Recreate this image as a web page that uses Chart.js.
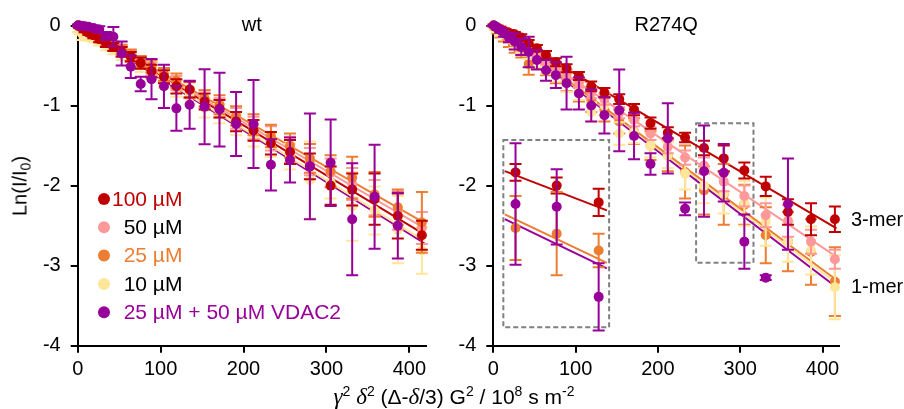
<!DOCTYPE html>
<html lang="en">
<head>
  <meta charset="UTF-8">
  <script src="https://cdn.jsdelivr.net/npm/chart.js"></script>
  <style>
    body, html {
      margin: 0;
      padding: 0;
      background: #fff;
      font-family: 'Liberation Sans', Arial, sans-serif;
    }

    .wrap {
      position: relative;
      width: 904px;
      height: 409px;
      overflow: hidden;
    }

    .wrap canvas {
      position: absolute;
      top: 0;
    }

    .y-title {
      position: absolute;
      left: 20px;
      top: 186px;
      transform: translate(-50%, -50%) rotate(-90deg);
      font-size: 20px;
      white-space: nowrap;
      color: #000;
    }

    .x-title {
      position: absolute;
      left: 454px;
      top: 397px;
      transform: translate(-50%, -50%);
      font-size: 21px;
      white-space: nowrap;
      color: #000;
    }

    .x-title i {
      font-family: 'Liberation Serif', serif;
      font-size: 23px;
    }

    sup { font-size: 14px; vertical-align: 8px; line-height: 0; }
    sub { font-size: 14px; vertical-align: -4px; line-height: 0; }
  </style>
</head>
<body>
  <div class="wrap">
    <canvas id="wt-chart" width="452" height="409" style="left:0"></canvas>
    <canvas id="mut-chart" width="452" height="409" style="left:452px"></canvas>
    <div class="y-title">Ln(I/I<sub>0</sub>)</div>
    <div class="x-title"><i>γ</i><sup>2</sup> <i>δ</i><sup>2</sup> (Δ-<i>δ</i>/3) G<sup>2</sup> / 10<sup>8</sup> s m<sup>-2</sup></div>
  </div>
  <script>
    // gradient steps (same for both panels)
    const xValues = [0.5, 2, 5, 8.5, 13, 19, 26, 34, 43, 53, 64, 76, 89, 104, 119, 135, 153, 171, 191, 212, 233, 256, 280, 305, 331, 358, 386, 415];

    const seriesLabels = ['100 µM', '50 µM', '25 µM', '10 µM', '25 µM + 50 µM VDAC2'];

    // wt panel
    const wtRed = [0, -0.01, -0.02, -0.05, -0.09, -0.12, -0.17, -0.22, -0.27, -0.33, -0.39, -0.47, -0.57, -0.64, -0.76, -0.80, -0.95, -1.04, -1.20, -1.31, -1.47, -1.58, -1.76, -2.00, -2.05, -2.17, -2.38, -2.62];
    const wtRedErr = [0.01, 0.02, 0.02, 0.03, 0.03, 0.04, 0.04, 0.05, 0.05, 0.06, 0.06, 0.07, 0.08, 0.08, 0.09, 0.1, 0.1, 0.11, 0.12, 0.13, 0.14, 0.15, 0.16, 0.24, 0.2, 0.32, 0.28, 0.18];
    const wtPink = [0, -0.01, -0.03, -0.05, -0.08, -0.11, -0.16, -0.21, -0.26, -0.32, -0.38, -0.46, -0.54, -0.62, -0.72, -0.81, -0.92, -1.03, -1.16, -1.28, -1.41, -1.55, -1.70, -1.84, -1.98, -2.15, -2.31, -2.53];
    const wtPinkErr = [0.01, 0.02, 0.02, 0.03, 0.03, 0.04, 0.04, 0.05, 0.05, 0.06, 0.07, 0.07, 0.08, 0.09, 0.09, 0.1, 0.11, 0.12, 0.13, 0.14, 0.15, 0.16, 0.17, 0.18, 0.2, 0.22, 0.24, 0.2];
    const wtOrange = [0, -0.01, -0.03, -0.06, -0.08, -0.12, -0.16, -0.20, -0.26, -0.30, -0.37, -0.45, -0.51, -0.61, -0.69, -0.80, -0.91, -0.99, -1.13, -1.24, -1.38, -1.50, -1.66, -1.82, -1.90, -2.11, -2.27, -2.46];
    const wtOrangeErr = [0.01, 0.02, 0.02, 0.03, 0.03, 0.04, 0.05, 0.05, 0.06, 0.06, 0.07, 0.07, 0.08, 0.08, 0.09, 0.1, 0.1, 0.12, 0.12, 0.13, 0.14, 0.15, 0.18, 0.2, 0.26, 0.28, 0.22, 0.38];
    const wtYellow = [-0.03, -0.05, -0.10, -0.09, -0.12, -0.15, -0.19, -0.24, -0.29, -0.36, -0.42, -0.50, -0.59, -0.68, -0.79, -0.88, -1.03, -1.10, -1.24, -1.37, -1.49, -1.64, -1.93, -1.96, -2.26, -2.31, -2.55, -2.81];
    const wtYellowErr = [0.05, 0.06, 0.08, 0.07, 0.07, 0.06, 0.06, 0.07, 0.07, 0.07, 0.08, 0.08, 0.08, 0.09, 0.1, 0.1, 0.12, 0.12, 0.13, 0.14, 0.15, 0.16, 0.48, 0.2, 0.43, 0.3, 0.42, 0.29];
    const wtPurple = [0, 0, -0.005, -0.01, -0.015, -0.03, -0.05, -0.13, -0.14, -0.35, -0.515, -0.73, -0.67, -0.76, -1.035, -0.99, -1.015, -1.05, -1.23, -1.23, -1.74, -1.68, -1.76, -1.715, -2.42, -2.14, -2.5, null];
    const wtPurpleErr = [0.01, 0.01, 0.01, 0.02, 0.02, 0.03, 0.04, 0.05, 0.12, 0.15, 0.14, 0.09, 0.25, 0.27, 0.28, 0.3, 0.47, 0.46, 0.4, 0.55, 0.32, 0.28, 0.66, 0.54, 0.70, 0.65, 0.41, null];

    // R274Q panel
    const mutRed = [0, -0.01, -0.03, -0.05, -0.07, -0.09, -0.11, -0.15, -0.22, -0.285, -0.37, -0.46, -0.535, -0.63, -0.76, -0.84, -0.92, -1.05, -1.22, -1.34, -1.40, -1.53, -1.66, -1.81, -2.01, -2.33, -2.42, -2.42];
    const mutRedErr = [0.01, 0.01, 0.02, 0.02, 0.03, 0.03, 0.03, 0.04, 0.04, 0.04, 0.05, 0.05, 0.05, 0.05, 0.06, 0.06, 0.06, 0.07, 0.07, 0.07, 0.06, 0.09, 0.16, 0.1, 0.12, 0.16, 0.2, 0.16];
    const mutPink = [0, -0.01, -0.02, -0.04, -0.06, -0.10, -0.15, -0.21, -0.28, -0.36, -0.44, -0.52, -0.61, -0.715, -0.84, -0.92, -1.09, -1.18, -1.35, -1.515, -1.65, -1.75, -1.95, -2.13, -2.37, -2.44, -2.70, -2.92];
    const mutPinkErr = [0.01, 0.01, 0.02, 0.02, 0.03, 0.03, 0.04, 0.04, 0.05, 0.05, 0.05, 0.06, 0.06, 0.06, 0.07, 0.07, 0.07, 0.08, 0.08, 0.08, 0.09, 0.1, 0.12, 0.13, 0.15, 0.2, 0.15, 0.12];
    const mutOrange = [0, -0.02, -0.05, -0.08, -0.12, -0.17, -0.21, -0.3, -0.48, -0.43, -0.52, -0.6, -0.7, -0.82, -0.94, -1.05, -1.2, -1.32, -1.5, -1.62, -1.83, -2.06, -2.11, -2.24, -2.62, -2.7, -2.83, -3.2];
    const mutOrangeErr = [0.02, 0.03, 0.05, 0.07, 0.08, 0.1, 0.13, 0.1, 0.135, 0.1, 0.1, 0.12, 0.12, 0.13, 0.14, 0.15, 0.15, 0.16, 0.18, 0.2, 0.33, 0.3, 0.38, 0.25, 0.35, 0.37, 0.41, 0.43];
    const mutYellow = [-0.01, -0.02, -0.04, -0.07, -0.10, -0.15, -0.2, -0.26, -0.33, -0.42, -0.5, -0.6, -0.72, -0.82, -1.08, -1.0, -1.35, -1.33, -1.5, -1.62, -1.85, -2.0, -2.1, -2.22, -2.45, -2.70, -2.81, -3.27];
    const mutYellowErr = [0.02, 0.03, 0.04, 0.05, 0.06, 0.07, 0.08, 0.08, 0.09, 0.1, 0.1, 0.1, 0.11, 0.11, 0.12, 0.12, 0.14, 0.14, 0.15, 0.16, 0.2, 0.22, 0.25, 0.28, 0.3, 0.25, 0.3, 0.4];
    const mutPurple = [0, -0.01, -0.03, -0.06, -0.1, -0.15, -0.2, -0.27, -0.33, -0.43, -0.56, -0.62, -0.72, -0.85, -1.0, -1.12, -1.06, -1.38, -1.73, -1.41, -2.29, -1.82, -1.84, -2.70, -3.15, -2.23, null, null];
    const mutPurpleErr = [0.01, 0.01, 0.02, 0.03, 0.04, 0.06, 0.1, 0.1, 0.19, 0.12, 0.13, 0.16, 0.33, 0.2, 0.2, 0.23, 0.51, 0.29, 0.135, 0.44, 0.08, 0.57, 0.36, 0.34, 0.03, 0.57, null, null];

    // fitted lines (value at each end of fitX)
    const wtFitX = [2, 418];
    const wtFitRed = [-0.01, -2.61];
    const wtFitPink = [-0.01, -2.53];
    const wtFitOrange = [0, -2.465];
    const wtFitYellow = [-0.02, -2.69];
    const wtFitPurple = [-0.03, -2.72];

    const mutFitX = [2, 417];
    const mutFitRed = [-0.01, -2.535];
    const mutFitPink = [-0.01, -2.89];
    const mutFitOrange = [-0.01, -3.18];
    const mutFitYellow = [-0.01, -3.22];
    const mutFitPurple = [-0.02, -3.27];

    // enlarged inset inside the R274Q panel
    const insetX = [27, 77, 128];
    const insetRed = [-1.835, -2.0, -2.21];
    const insetRedErr = [0.105, 0.1, 0.17];
    const insetOrange = [-2.53, -2.6, -2.81];
    const insetOrangeErr = [0.4, 0.52, 0.21];
    const insetPurple = [-2.23, -2.265, -3.39];
    const insetPurpleErr = [0.76, 0.47, 0.42];
    const insetFitX = [14, 138];
    const insetFitRed = [-1.82, -2.31];
    const insetFitOrange = [-2.36, -2.965];
    const insetFitPurple = [-2.42, -3.035];

    // dashed boxes [x1, x2, y1, y2]
    const insetBox = [12.2, 140.7, -1.43, -3.77];
    const zoomBox = [246.4, 316.1, -1.22, -2.965];

    // side labels of the R274Q panel
    const sideLabels = ['3-mer', '1-mer'];
    const sideLabelY = [-2.44, -3.27];

    const yTicks = [0, -1, -2, -3, -4];
    const xTicks = [0, 100, 200, 300, 400];

    const RED = '#c00000', PINK = '#ff9999', ORANGE = '#ed7d31', YELLOW = '#ffe699', PURPLE = '#990099';
    const FONT = "'Liberation Sans', Arial, sans-serif";
    const FONT_SIZE = 20;
    const legendText = [RED, '#000', ORANGE, '#000', PURPLE];
    const legendDots = [RED, PINK, ORANGE, YELLOW, PURPLE];

    function pts(xs, ys) {
      return xs.map((x, i) => ({ x: x, y: ys[i] }));
    }

    function scatterSet(xs, ys, errs, color, order) {
      return {
        type: 'scatter',
        data: pts(xs, ys),
        errors: errs,
        backgroundColor: color,
        borderColor: color,
        pointRadius: 5,
        pointBorderWidth: 0,
        order: order,
        clip: false
      };
    }

    function fitSet(xs, ys, color) {
      return {
        type: 'line',
        data: pts(xs, ys),
        borderColor: color,
        borderWidth: 2,
        pointRadius: 0,
        fill: false,
        order: 20,
        clip: false
      };
    }

    const errorBars = {
      id: 'errorBars',
      beforeDatasetDraw(chart, args) {
        const ds = chart.data.datasets[args.index];
        if (!ds.errors) return;
        const ctx = chart.ctx, x = chart.scales.x, y = chart.scales.y;
        ctx.save();
        ctx.strokeStyle = ds.backgroundColor;
        ctx.lineWidth = 2;
        ds.data.forEach((p, i) => {
          const e = ds.errors[i];
          if (p.y == null || e == null) return;
          const px = x.getPixelForValue(p.x);
          const top = y.getPixelForValue(p.y + e);
          const bot = y.getPixelForValue(p.y - e);
          ctx.beginPath();
          ctx.moveTo(px, top); ctx.lineTo(px, bot);
          ctx.moveTo(px - 6, top); ctx.lineTo(px + 6, top);
          ctx.moveTo(px - 6, bot); ctx.lineTo(px + 6, bot);
          ctx.stroke();
        });
        ctx.restore();
      }
    };

    const panelTitle = {
      id: 'panelTitle',
      afterDraw(chart, args, opts) {
        const ctx = chart.ctx, a = chart.chartArea;
        ctx.save();
        ctx.font = FONT_SIZE + 'px ' + FONT;
        ctx.fillStyle = '#000';
        ctx.textAlign = 'center';
        ctx.textBaseline = 'middle';
        ctx.fillText(opts.text, (a.left + a.right) / 2, a.top);
        ctx.restore();
      }
    };

    const dashedBoxes = {
      id: 'dashedBoxes',
      beforeDatasetsDraw(chart, args, opts) {
        if (!opts.boxes) return;
        const ctx = chart.ctx, x = chart.scales.x, y = chart.scales.y;
        ctx.save();
        ctx.strokeStyle = '#808080';
        ctx.lineWidth = 2;
        ctx.setLineDash([5, 3]);
        opts.boxes.forEach(b => {
          const x1 = x.getPixelForValue(b[0]), x2 = x.getPixelForValue(b[1]);
          const y1 = y.getPixelForValue(b[2]), y2 = y.getPixelForValue(b[3]);
          ctx.strokeRect(x1, y1, x2 - x1, y2 - y1);
        });
        ctx.restore();
      }
    };

    const dotLegend = {
      id: 'dotLegend',
      afterDraw(chart, args, opts) {
        if (!opts.show) return;
        const ctx = chart.ctx;
        ctx.save();
        ctx.font = '21px ' + FONT;
        ctx.textBaseline = 'middle';
        const indent = ctx.measureText('0').width;
        seriesLabels.forEach((label, i) => {
          const cy = 199 + i * 28.3;
          ctx.fillStyle = legendDots[i];
          ctx.beginPath();
          ctx.arc(104, cy, 6, 0, Math.PI * 2);
          ctx.fill();
          ctx.fillStyle = legendText[i];
          ctx.fillText(label, 112 + (i === 0 ? 0 : indent), cy + 1);
        });
        ctx.restore();
      }
    };

    const sideText = {
      id: 'sideText',
      afterDraw(chart, args, opts) {
        if (!opts.labels) return;
        const ctx = chart.ctx, y = chart.scales.y;
        ctx.save();
        ctx.font = FONT_SIZE + 'px ' + FONT;
        ctx.fillStyle = '#000';
        ctx.textBaseline = 'middle';
        opts.labels.forEach((t, i) => {
          ctx.fillText(t, chart.chartArea.right + 12, y.getPixelForValue(opts.values[i]));
        });
        ctx.restore();
      }
    };

    function makeOptions(title, yWidth, padRight, extra) {
      return {
        responsive: false,
        animation: false,
        events: [],
        layout: { padding: { left: 0, right: padRight, top: 25.5, bottom: 0 } },
        scales: {
          x: {
            type: 'linear',
            min: 0,
            max: 420,
            afterBuildTicks: s => { s.ticks = xTicks.map(v => ({ value: v })); },
            afterFit: s => { s.height = 63.3; },
            border: { display: true, color: '#000', width: 2 },
            grid: { drawOnChartArea: false, drawTicks: true, tickLength: 7, color: '#000', lineWidth: 2 },
            ticks: { color: '#000', font: { family: FONT, size: FONT_SIZE }, padding: 5, maxRotation: 0 }
          },
          y: {
            type: 'linear',
            min: -4,
            max: 0,
            afterBuildTicks: s => { s.ticks = yTicks.map(v => ({ value: v })); },
            afterFit: s => { s.width = yWidth; },
            border: { display: true, color: '#000', width: 2 },
            grid: { drawOnChartArea: false, drawTicks: true, tickLength: 7, color: '#000', lineWidth: 2 },
            ticks: { color: '#000', font: { family: FONT, size: FONT_SIZE }, padding: 10 }
          }
        },
        plugins: Object.assign({
          legend: { display: false },
          tooltip: { enabled: false },
          panelTitle: { text: title }
        }, extra)
      };
    }

    const plugins = [errorBars, panelTitle, dashedBoxes, dotLegend, sideText];

    new Chart(document.getElementById('wt-chart'), {
      type: 'scatter',
      data: {
        datasets: [
          scatterSet(xValues, wtPurple, wtPurpleErr, PURPLE, 10),
          scatterSet(xValues, wtRed, wtRedErr, RED, 11),
          scatterSet(xValues, wtOrange, wtOrangeErr, ORANGE, 12),
          scatterSet(xValues, wtPink, wtPinkErr, PINK, 13),
          scatterSet(xValues, wtYellow, wtYellowErr, YELLOW, 14),
          fitSet(wtFitX, wtFitYellow, YELLOW),
          fitSet(wtFitX, wtFitPink, PINK),
          fitSet(wtFitX, wtFitOrange, ORANGE),
          fitSet(wtFitX, wtFitRed, RED),
          fitSet(wtFitX, wtFitPurple, PURPLE)
        ]
      },
      options: makeOptions('wt', 77.7, 26, { dotLegend: { show: true } }),
      plugins: plugins
    });

    new Chart(document.getElementById('mut-chart'), {
      type: 'scatter',
      data: {
        datasets: [
          scatterSet(xValues, mutPurple, mutPurpleErr, PURPLE, 10),
          scatterSet(xValues, mutRed, mutRedErr, RED, 11),
          scatterSet(xValues, mutPink, mutPinkErr, PINK, 12),
          scatterSet(xValues, mutYellow, mutYellowErr, YELLOW, 13),
          scatterSet(xValues, mutOrange, mutOrangeErr, ORANGE, 14),
          scatterSet(insetX, insetPurple, insetPurpleErr, PURPLE, 10),
          scatterSet(insetX, insetOrange, insetOrangeErr, ORANGE, 11),
          scatterSet(insetX, insetRed, insetRedErr, RED, 12),
          fitSet(mutFitX, mutFitPink, PINK),
          fitSet(mutFitX, mutFitOrange, ORANGE),
          fitSet(mutFitX, mutFitYellow, YELLOW),
          fitSet(mutFitX, mutFitRed, RED),
          fitSet(mutFitX, mutFitPurple, PURPLE),
          fitSet(insetFitX, insetFitRed, RED),
          fitSet(insetFitX, insetFitOrange, ORANGE),
          fitSet(insetFitX, insetFitPurple, PURPLE)
        ]
      },
      options: makeOptions('R274Q', 41.3, 65, {
        dashedBoxes: { boxes: [insetBox, zoomBox] },
        sideText: { labels: sideLabels, values: sideLabelY }
      }),
      plugins: plugins
    });
  </script>
</body>
</html>
